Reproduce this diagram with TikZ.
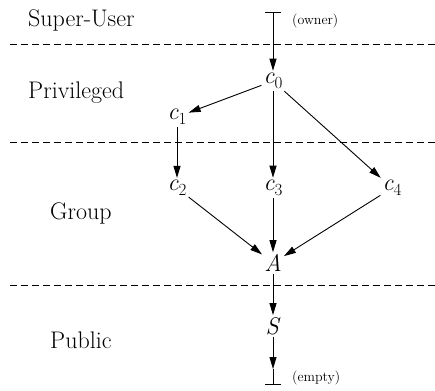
\documentclass[tikz,border=0pt]{standalone}
\usepackage{fontspec}
\usetikzlibrary{arrows.meta}
\newcommand{\vn}[2]{\textit{#1}\raisebox{-0.22em}{\fontsize{17}{17}\selectfont #2}}
\tikzset{
  lvl/.style={font=\fontsize{24}{26}\selectfont, anchor=west, inner sep=0pt},
  vx/.style={font=\fontsize{24}{26}\selectfont, inner sep=2pt},
  note/.style={font=\fontsize{14}{16}\selectfont, anchor=west, inner sep=0pt},
  arr/.style={-{Triangle[length=12pt,width=7pt]}, line width=0.9pt},
  sep/.style={dashed, dash pattern=on 7pt off 4pt, line width=1pt},
  sym/.style={line width=1pt}
}
\begin{document}
\begin{tikzpicture}[x=1pt,y=-1pt]
\useasboundingbox (0,0) rectangle (435,390);
% separators
\draw[sep] (10,45) -- (435,45);
\draw[sep] (10,142) -- (435,142);
\draw[sep] (10,285) -- (435,285);
% level labels
\node[lvl] (lsu) at (28,20) {Super-User};
\node[lvl] (lpr) at (28,93) {Privileged};
\node[lvl] (lgr) at (50,213) {Group};
\node[lvl] (lpu) at (50,340) {Public};
% top and bottom symbols
\coordinate (tp) at (273,27);
\draw[sym] (265,13) -- (281,13) (273,13) -- (tp);
\node[note] (own) at (292,21) {(owner)};
\coordinate (bt) at (273,369);
\draw[sym] (bt) -- (273,384) (265,384) -- (281,384);
\node[note] (emp) at (292,378) {(empty)};
% vertices
\node[vx] (c0) at (273,81) {\vn{c}{0}};
\node[vx] (c1) at (177,117) {\vn{c}{1}};
\node[vx] (c2) at (177,188) {\vn{c}{2}};
\node[vx] (c3) at (273,188) {\vn{c}{3}};
\node[vx] (c4) at (392,188) {\vn{c}{4}};
\node[vx] (A) at (273,263) {\textit{A}};
\node[vx] (S) at (273,326) {\textit{S}};
% edges
\draw[arr] (tp) -- (c0);
\draw[arr] (c0) -- (c1);
\draw[arr] (c0) -- (c3);
\draw[arr] (c0) -- (c4);
\draw[arr] (c1) -- (c2);
\draw[arr] (c2) -- (A);
\draw[arr] (c3) -- (A);
\draw[arr] (c4) -- (A);
\draw[arr] (A) -- (S);
\draw[arr] (S) -- (bt);
\end{tikzpicture}
\end{document}
